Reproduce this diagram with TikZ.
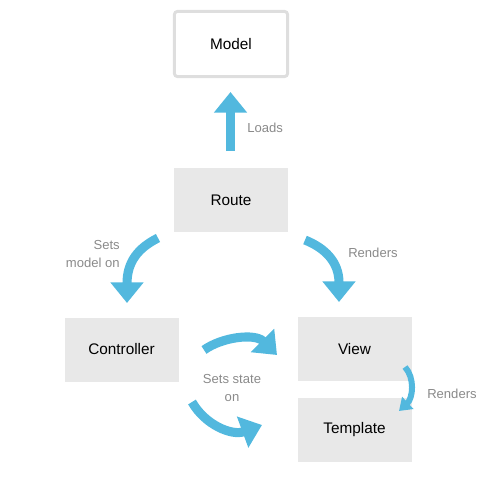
\documentclass[tikz,border=0pt]{standalone}
\usepackage{fontspec}
\setmainfont{Liberation Sans}
\usetikzlibrary{arrows.meta}
\definecolor{arrowblue}{RGB}{82,184,222}
\definecolor{boxgray}{RGB}{232,232,232}
\definecolor{labelgray}{RGB}{138,138,138}
\definecolor{bordergray}{RGB}{222,222,222}
\begin{document}
\begin{tikzpicture}[x=0.75pt,y=-0.75pt,
  box/.style={fill=boxgray,draw=none,minimum width=85.5pt,minimum height=48pt,inner sep=0pt,font=\fontsize{11.5}{13}\selectfont},
  whitebox/.style={fill=white,draw=bordergray,line width=2.2pt,rounded corners=2.5pt,minimum width=85pt,minimum height=49pt,inner sep=0pt,font=\fontsize{11.5}{13}\selectfont},
  lbl/.style={text=labelgray,font=\fontsize{9.8}{12}\selectfont,inner sep=0pt},
  bigarrow/.style={draw=arrowblue,line width=6.8pt,-{Triangle[width=24pt,length=15.5pt]}},
  smallarrow/.style={draw=arrowblue,line width=4.5pt,-{Triangle[width=12pt,length=9pt]}}
]
\useasboundingbox (0,0) rectangle (500,482);
\node[whitebox] (model) at (231,44) {Model};
\node[box] (route) at (231,200) {Route};
\node[box] (controller) at (121.5,349.5) {Controller};
\node[box] (view) at (354.5,349) {View};
\node[box] (template) at (354.5,430) {Template};

\coordinate (l1) at (230.5,151);
\coordinate (l2) at (230.5,92);
\draw[bigarrow] (l1) -- (l2);
\node[lbl,anchor=west] (loads) at (247,128) {Loads};

\coordinate (m1) at (158,238);
\coordinate (m2) at (127,303);
\draw[bigarrow] (m1) .. controls (138,248) and (127,262) .. (m2);
\node[lbl,anchor=east,align=right] (setsmodel) at (120,254) {Sets\\[1pt]model on};

\coordinate (r1) at (305,240);
\coordinate (r2) at (339,302);
\draw[bigarrow] (r1) .. controls (325,248) and (339,262) .. (r2);
\node[lbl,anchor=west] (renders1) at (348,253) {Renders};

\coordinate (s1) at (204,350);
\coordinate (s2) at (277,355);
\draw[bigarrow] (s1) .. controls (222,337) and (255,333) .. (s2);
\coordinate (s3) at (192,402);
\coordinate (s4) at (262,425);
\draw[bigarrow] (s3) .. controls (205,425) and (232,436) .. (s4);
\node[lbl,align=center] (setsstate) at (232,388) {Sets state\\[1pt]on};

\coordinate (t1) at (405,367);
\coordinate (t2) at (399,411);
\draw[smallarrow] (t1) .. controls (415,378) and (413,398) .. (t2);
\node[lbl,anchor=west] (renders2) at (427,394) {Renders};
\end{tikzpicture}
\end{document}
